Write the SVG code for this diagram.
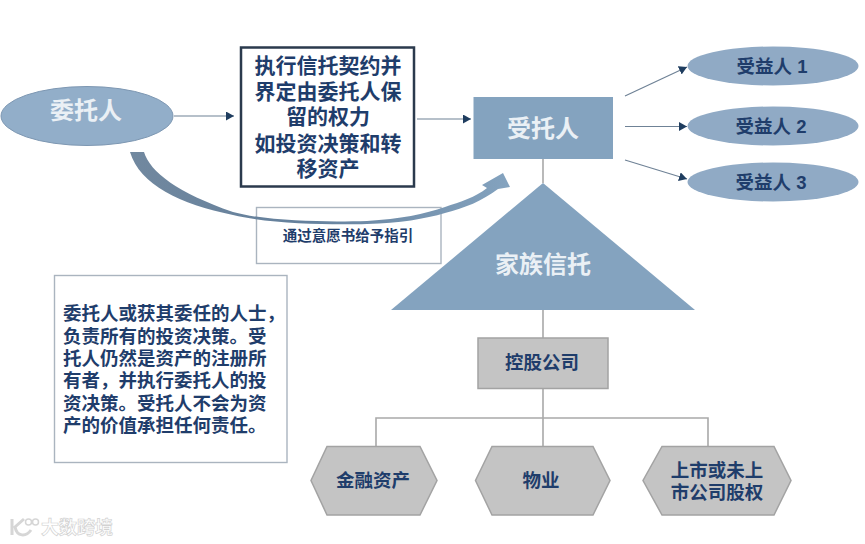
<svg xmlns="http://www.w3.org/2000/svg" width="865" height="544" viewBox="0 0 865 544">
<style>
text{font-family:"Liberation Sans","Noto Sans CJK SC",sans-serif;font-weight:700;text-anchor:middle;dominant-baseline:central;fill:#1f3d6b}
.lt{fill:#eaf0f5;font-size:24px}
.blue{fill:#84a3bf}
.ell{fill:#92aec9;stroke:#7d97b2;stroke-width:1}
.ben{fill:#90aac5}
.grey{fill:#c4c4c4;stroke:#a3a3a3;stroke-width:1.5}
.c{stroke:#a9a9a9;stroke-width:1.6;fill:none}
.a{stroke:#6f8296;stroke-width:1.2;fill:none;marker-end:url(#ah)}
.b{fill:#fff;stroke:#aab4bf;stroke-width:1.4}
.h{font-size:18.500px}
.t{font-size:18.500px;text-anchor:start}
.m{font-size:21px}
</style>
<defs>
<marker id="ah" markerUnits="userSpaceOnUse" markerWidth="10" markerHeight="10" refX="8" refY="4.500" orient="auto"><path d="M0,0L8,4.500L0,9Z" fill="#1f3d5f"/></marker>
<linearGradient id="cg" x1="130" y1="0" x2="510" y2="0" gradientUnits="userSpaceOnUse"><stop offset="0" stop-color="#71889f"/><stop offset=".45" stop-color="#64809c"/><stop offset="1" stop-color="#84a3bf"/></linearGradient>
</defs>
<rect width="865" height="544" fill="#fff"/>
<g id="connectors">
<path class="a" d="M174,116H234"/>
<path class="a" d="M417,119H471"/>
<path class="a" d="M625,96L687,67"/>
<path class="a" d="M625,126.500H687"/>
<path class="a" d="M625,160L687,179"/>
<path class="c" d="M543,159V183M543,310V338M543,388V446M376,446V418H708V446"/>
</g>
<g id="note-guidance"><rect class="b" x="256.500" y="207.500" width="184.500" height="56"/>
<text x="348" y="236" style="font-size:14.500px">通过意愿书给予指引</text></g>
<path id="curved-arrow" fill="url(#cg)" d="M130,152H144C150,172 178,193 233,212C270,222 330,222 367,221C400,219 425,214 445,207C460,202 476,197 487,188L482,185L503,173L510,187L498,189C482,201 465,208 445,213C425,219 400,223 367,224C330,225 270,224 233,215C180,204 140,185 130,152Z"/>
<g id="settlor"><ellipse class="ell" cx="87" cy="116" rx="86" ry="29.500"/><text class="lt" x="86" y="110">委托人</text></g>
<g id="contract"><rect x="241" y="47.500" width="173" height="139" fill="#fff" stroke="#2b3a4d" stroke-width="2.500"/>
<text class="m" x="328" y="65">执行信托契约并</text><text class="m" x="328" y="91">界定由委托人保</text><text class="m" x="328" y="116">留的权力</text><text class="m" x="328" y="143">如投资决策和转</text><text class="m" x="328" y="168">移资产</text></g>
<g id="trustee"><rect class="blue" x="473.500" y="97" width="139.500" height="62"/><text class="lt" x="543" y="128">受托人</text></g>
<g id="beneficiary-1"><ellipse class="ben" cx="773" cy="66" rx="85.500" ry="19.500"/><text class="h" x="772" y="66">受益人 1</text></g>
<g id="beneficiary-2"><ellipse class="ben" cx="773" cy="126" rx="85.500" ry="19.500"/><text class="h" x="771" y="126">受益人 2</text></g>
<g id="beneficiary-3"><ellipse class="ben" cx="773" cy="182" rx="85.500" ry="19.500"/><text class="h" x="771" y="182">受益人 3</text></g>
<g id="family-trust"><polygon class="blue" points="543,183 695,310 391,310"/><text class="lt" x="543" y="264">家族信托</text></g>
<g id="holding"><rect class="grey" x="478" y="338" width="130" height="50.500"/><text class="h" x="542" y="362">控股公司</text></g>
<g id="financial"><polygon class="grey" points="327,446.500 420,446.500 437,480.500 420,515 327,515 311,480.500"/><text class="h" x="373" y="480">金融资产</text></g>
<g id="property"><polygon class="grey" points="492,446.500 593,446.500 610,480.500 593,515 492,515 475.500,480.500"/><text class="h" x="541" y="480">物业</text></g>
<g id="equity"><polygon class="grey" points="662,446.500 774,446.500 791,480.500 774,515 662,515 643,480.500"/><text class="h" x="717" y="470">上市或未上</text><text class="h" x="717" y="492">市公司股权</text></g>
<g id="explanation"><rect class="b" x="54.500" y="275.500" width="232.500" height="187"/>
<text class="t" x="63" y="313">委托人或获其委任的人士，</text>
<text class="t" x="63" y="336">负责所有的投资决策。受</text>
<text class="t" x="63" y="358">托人仍然是资产的注册所</text>
<text class="t" x="63" y="380">有者，并执行委托人的投</text>
<text class="t" x="63" y="403">资决策。受托人不会为资</text>
<text class="t" x="63" y="425">产的价值承担任何责任。</text></g>
<g id="watermark">
<path d="M12,519V535M24,519L15,527C17,537 26,537 31,530" fill="none" stroke="#d6d6d6" stroke-width="3"/>
<circle cx="28.500" cy="522" r="3" fill="none" stroke="#d6d6d6" stroke-width="1.500"/><circle cx="35.500" cy="522" r="3" fill="none" stroke="#d6d6d6" stroke-width="1.500"/>
<text x="77" y="528" style="font-size:18px;fill:#fff;stroke:#d2d2d2;stroke-width:.7">大数跨境</text></g>
</svg>
